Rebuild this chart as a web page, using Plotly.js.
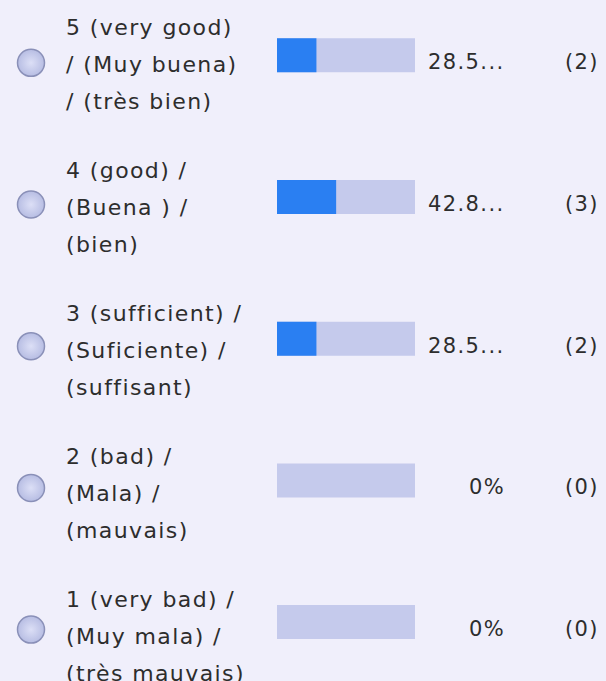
<!DOCTYPE html>
<html>
<head>
<meta charset="utf-8">
<script src="https://cdn.plot.ly/plotly-3.0.1.min.js"></script>
<style>
html,body{margin:0;padding:0;background:#F0EFFB;}
#chart{width:606px;height:681px;}
.annotation-text{letter-spacing:1.4px;}
</style>
</head>
<body>
<div id="chart"></div>
<script>
// ---- data ----
var ratingLine1 = ["5 (very good)", "4 (good) /", "3 (sufficient) /", "2 (bad) /", "1 (very bad) /"];
var ratingLine2 = ["/ (Muy buena)", "(Buena ) /", "(Suficiente) /", "(Mala) /", "(Muy mala) /"];
var ratingLine3 = ["/ (très bien)", "(bien)", "(suffisant)", "(mauvais)", "(très mauvais)"];
var percentValues = [28.57, 42.86, 28.57, 0, 0];
var percentLabels = ["28.5...", "42.8...", "28.5...", "0%", "0%"];
var countLabels = ["(2)", "(3)", "(2)", "(0)", "(0)"];
var trackValues = [100, 100, 100, 100, 100];

// ---- layout helpers ----
var W = 606, H = 681;
var rowTop = 55.3, rowStep = 141.7;
var rows = ratingLine1.map(function(_, i){ return i; });
var px = function(p){ return p / rowStep; };   // pixel offset -> y units
var yMin = -rowTop / rowStep, yMax = (H - rowTop) / rowStep;

var textColor = "#2d2d2d";
var labelFont = {family: "DejaVu Sans", size: 22, color: textColor};
var valueFont = {family: "DejaVu Sans", size: 21, color: textColor};

var annotations = [];
rows.forEach(function(i){
  var mid = 9.5 + 1.25 * i;
  [ratingLine1, ratingLine2, ratingLine3].forEach(function(lines, k){
    annotations.push({
      xref: "paper", yref: "y", x: 63.5 / W, y: i + px(mid + (k - 1) * 37),
      xanchor: "left", yanchor: "middle", showarrow: false,
      text: lines[i], font: labelFont
    });
  });
  annotations.push({
    xref: "paper", yref: "y", x: 507 / W, y: i + px(7),
    xanchor: "right", yanchor: "middle", showarrow: false,
    text: percentLabels[i], font: valueFont
  });
  annotations.push({
    xref: "paper", yref: "y", x: 601 / W, y: i + px(7),
    xanchor: "right", yanchor: "middle", showarrow: false,
    text: countLabels[i], font: valueFont
  });
});

var barWidth = px(34);

var traces = [
  {
    type: "bar", orientation: "h", y: rows, x: trackValues, width: barWidth,
    marker: {color: "#C5CAEC", line: {width: 0}}, hoverinfo: "skip", xaxis: "x", yaxis: "y"
  },
  {
    type: "bar", orientation: "h", y: rows, x: percentValues, width: barWidth,
    marker: {color: "#2A7FF2", line: {width: 0}}, hoverinfo: "skip", xaxis: "x", yaxis: "y"
  },
  {
    type: "scatter", mode: "markers", y: rows.map(function(i){ return i + px(7.5); }),
    x: rows.map(function(){ return 31; }), xaxis: "x2", yaxis: "y",
    marker: {symbol: "circle", size: 27, color: "#B7BDE3",
             gradient: {type: "radial", color: "#DCDFF6"},
             line: {color: "#8A90B8", width: 1.5}},
    hoverinfo: "skip", cliponaxis: false
  }
];

var layout = {
  width: W, height: H,
  margin: {l: 0, r: 0, t: 0, b: 0, pad: 0},
  paper_bgcolor: "#F0EFFB", plot_bgcolor: "rgba(0,0,0,0)",
  showlegend: false, barmode: "overlay",
  xaxis: {domain: [277 / W, 415 / W], range: [0, 100], visible: false, fixedrange: true},
  xaxis2: {domain: [0, 1], range: [0, W], visible: false, anchor: "y", fixedrange: true},
  yaxis: {domain: [0, 1], range: [yMax, yMin], visible: false, fixedrange: true},
  annotations: annotations
};

Plotly.newPlot("chart", traces, layout, {displayModeBar: false, staticPlot: true});
</script>
</body>
</html>
